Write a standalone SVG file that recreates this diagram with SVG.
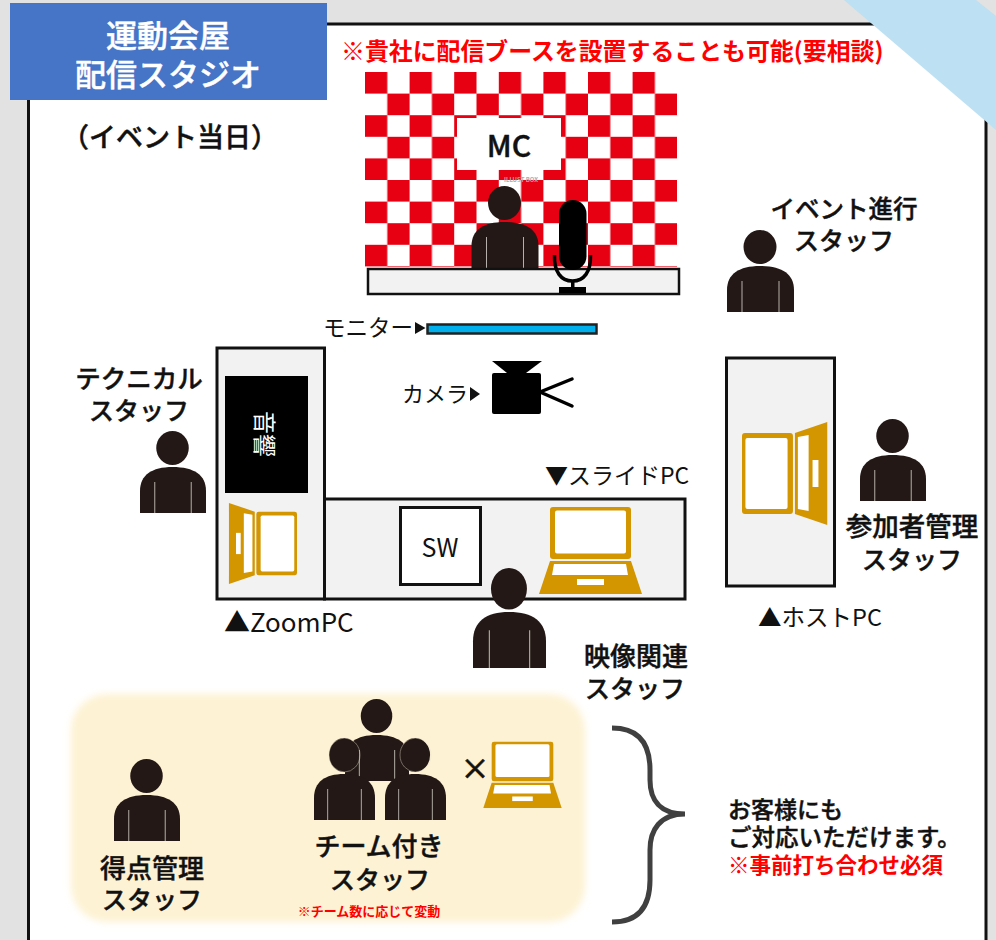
<svg xmlns="http://www.w3.org/2000/svg" xmlns:xlink="http://www.w3.org/1999/xlink" width="996" height="940" viewBox="0 0 996 940">
<style>
text{font-family:"Noto Sans CJK JP","Noto Sans",sans-serif;fill:#111}
.m{text-anchor:middle}
.s{font-size:25px;font-weight:500;stroke:#111;stroke-width:.45px}
.w{font-size:31px;font-weight:500;fill:#fff;stroke:#fff;stroke-width:.45px;text-anchor:middle}
.r{fill:#f00;font-weight:700}
.tbl{fill:#f2f2f2;stroke:#111;stroke-width:3}
</style>
<defs>
<pattern id="chk" patternUnits="userSpaceOnUse" x="365" y="72" width="44.6" height="43.2">
<rect width="44.6" height="43.2" fill="#fff"/>
<rect width="22.3" height="21.6" fill="#e60012"/>
<rect x="22.3" y="21.6" width="22.3" height="21.6" fill="#e60012"/>
</pattern>
<symbol id="person" viewBox="0 0 67 82" preserveAspectRatio="none" overflow="visible">
<ellipse cx="33" cy="17" rx="16.500" ry="17" fill="#231815"/>
<path d="M0,82V60C0,44 12,36 33,36C55,36 67,44 67,60V82Z" fill="#231815"/>
<path d="M15,51V82M52,51V82" stroke="#b5b0ab" stroke-width="1" fill="none"/>
</symbol>
<g id="laptop">
<rect x="11" y="0" width="81" height="52" rx="3" fill="#d39600"/>
<rect x="16" y="3.500" width="71" height="43" rx="2" fill="#fff"/>
<path d="M11,54H92L103,87H0Z" fill="#d39600"/>
<path d="M15,57H87L89,68H13Z" fill="#fff"/>
<rect x="38" y="72" width="27" height="6" fill="#fff"/>
</g>
<filter id="soft" x="-5%" y="-5%" width="110%" height="110%"><feGaussianBlur stdDeviation="3.500"/></filter>
</defs>

<rect width="996" height="940" fill="#e2e2e2"/>
<rect x="28.500" y="24" width="957.500" height="930" fill="#fff" stroke="#111" stroke-width="3"/>
<polygon points="844,0 976,0 996,16 996,130" fill="#bde0f2"/>

<g id="title">
<rect x="10" y="3" width="317" height="97" fill="#4674c6"/>
<text class="w" x="168" y="47">運動会屋</text>
<text class="w" x="168" y="86">配信スタジオ</text>
</g>
<text id="subtitle" class="m s" x="170" y="147" style="font-size:27px">（イベント当日）</text>
<text id="note-top" class="r" x="341" y="60" font-size="23.900">※貴社に配信ブースを設置することも可能(要相談)</text>

<g id="backdrop">
<rect x="365" y="72" width="312" height="195" fill="url(#chk)"/>
<rect x="457" y="118" width="104" height="52" fill="#fff"/>
<text class="m s" x="509" y="157" style="font-size:30px">MC</text>
<text class="m" x="521" y="182" font-size="6" font-weight="700" style="fill:#b0a8a8">ILLUST BOX</text>
</g>
<g id="mc"><use xlink:href="#person" href="#person" x="471.500" y="186" width="67" height="82"/></g>
<g id="desk"><rect x="368" y="269" width="311" height="25" fill="#f2f2f2" stroke="#111" stroke-width="2.500"/></g>
<g id="mic" fill="#000">
<rect x="559" y="200" width="27.500" height="70" rx="13.700"/>
<path d="M554.500,255C554,272 561,281 572.500,281C584,281 591,272 590.500,255" fill="none" stroke="#000" stroke-width="3.500"/>
<rect x="571" y="280" width="3.500" height="9"/>
<rect x="559" y="287" width="27" height="6"/>
</g>
<g id="event-staff">
<use xlink:href="#person" href="#person" x="727" y="230" width="67" height="82"/>
<text class="m s" x="844" y="218" style="font-size:24.500px">イベント進行</text>
<text class="m s" x="844" y="250">スタッフ</text>
</g>
<g id="monitor">
<text x="323" y="336" font-size="22.500">モニター</text>
<path d="M415,322L425.500,328L415,334Z" fill="#111"/>
<rect x="427.500" y="324.500" width="169" height="9" fill="#00afec" stroke="#222" stroke-width="2.500"/>
</g>
<g id="camera">
<text x="402" y="402" font-size="22">カメラ</text>
<path d="M470,387L480,394L470,401Z" fill="#111"/>
<rect x="492" y="373" width="49" height="41" rx="2" fill="#000"/>
<path d="M492,361H542L526,373H507Z" fill="#000"/>
<path d="M540,392L572,379M540,392L572,406" stroke="#000" stroke-width="3.500" stroke-linecap="round" fill="none"/>
</g>
<g id="zoom-table">
<rect class="tbl" x="324.500" y="499" width="360.500" height="100"/>
<rect class="tbl" x="217" y="348" width="107.500" height="251"/>
<rect x="225" y="376" width="83" height="117" fill="#000"/>
<text class="m" transform="translate(264,434) rotate(90)" y="8" font-size="23" style="fill:#fff">音響</text>
<use xlink:href="#laptop" href="#laptop" transform="matrix(0,0.786,-0.782,0,297,503)"/>
<text x="224" y="632" font-size="26">▲ZoomPC</text>
</g>
<g id="sw">
<rect x="400.500" y="507.500" width="80" height="77" fill="#fff" stroke="#111" stroke-width="3"/>
<text class="m" x="440" y="557" font-size="25">SW</text>
</g>
<g id="slide-pc">
<use xlink:href="#laptop" href="#laptop" transform="translate(539,507)"/>
<text x="545" y="484" font-size="23">▼スライドPC</text>
</g>
<g id="technical-staff">
<use xlink:href="#person" href="#person" x="140" y="431" width="66" height="82"/>
<text class="m s" x="139" y="388" style="font-size:25.500px">テクニカル</text>
<text class="m s" x="139" y="420">スタッフ</text>
</g>
<g id="host-pc">
<rect class="tbl" x="726.500" y="358" width="108" height="228"/>
<use xlink:href="#laptop" href="#laptop" transform="matrix(0,1,0.98,0,742,422)"/>
<text x="758" y="626" font-size="23.500">▲ホストPC</text>
</g>
<g id="participant-staff">
<use xlink:href="#person" href="#person" x="860" y="419" width="66" height="82"/>
<text class="m s" x="912" y="536" style="font-size:26.500px">参加者管理</text>
<text class="m s" x="912" y="569">スタッフ</text>
</g>
<g id="video-staff">
<use xlink:href="#person" href="#person" x="473" y="568" width="73" height="100"/>
<text class="m s" x="636" y="666" style="font-size:26px">映像関連</text>
<text class="m s" x="635" y="698">スタッフ</text>
</g>
<rect id="panel" x="71" y="694" width="514" height="228" rx="36" fill="#fdf2d3" filter="url(#soft)"/>
<g id="score-staff">
<use xlink:href="#person" href="#person" x="114" y="759" width="66" height="82"/>
<text class="m s" x="152" y="878" style="font-size:26px">得点管理</text>
<text class="m s" x="152" y="909">スタッフ</text>
</g>
<g id="team-staff">
<use xlink:href="#person" href="#person" x="345" y="699" width="64" height="82"/>
<use xlink:href="#person" href="#person" x="314" y="738" width="61" height="82"/>
<use xlink:href="#person" href="#person" x="385" y="738" width="61" height="82"/>
<ellipse cx="344.500" cy="755" rx="15.500" ry="17" fill="none" stroke="#e8e0cc" stroke-width=".6" stroke-opacity=".7"/>
<ellipse cx="415.500" cy="755" rx="15.500" ry="17" fill="none" stroke="#e8e0cc" stroke-width=".6" stroke-opacity=".7"/>
<text class="m s" x="379" y="856" style="font-size:26px">チーム付き</text>
<text class="m s" x="380" y="889">スタッフ</text>
<text class="m r" x="369" y="916" font-size="13">※チーム数に応じて変動</text>
<text class="m s" x="475" y="780" style="font-size:29px;stroke-width:.6px">×</text>
<use xlink:href="#laptop" href="#laptop" transform="translate(483.300,741.700) scale(.761)"/>
</g>
<g id="connectors">
<path d="M612,728C640,728 650,745 650,770V780C650,800 660,814 685,814C660,814 650,830 650,850V880C650,905 640,922 612,922" fill="none" stroke="#404040" stroke-width="5"/>
</g>
<g id="customer-note">
<text class="s" x="728" y="818" style="font-size:23px">お客様にも</text>
<text class="s" x="728" y="846" style="font-size:23.500px">ご対応いただけます。</text>
<text class="r" x="728" y="873" font-size="21.500">※事前打ち合わせ必須</text>
</g>
</svg>
